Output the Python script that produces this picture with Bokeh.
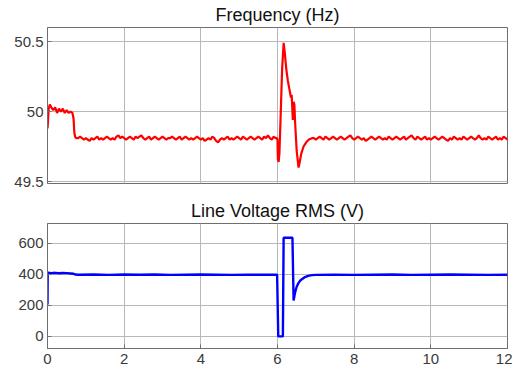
from bokeh.plotting import figure
from bokeh.layouts import column
from bokeh.models import FixedTicker, Range1d
from bokeh.embed import file_html
from bokeh.resources import INLINE

# ---------------- data ----------------
x_ticks = [0, 2, 4, 6, 8, 10, 12]
freq_ticks = [49.5, 50, 50.5]
volt_ticks = [0, 200, 400, 600]

# Frequency: start-up segment
freq_t_start = [0.0, 0.01, 0.03, 0.06, 0.1, 0.15, 0.2, 0.25, 0.3, 0.35, 0.4, 0.45,
                0.5, 0.55, 0.6, 0.65, 0.68, 0.7, 0.72, 0.75]
freq_v_start = [49.88, 49.92, 50.02, 50.05, 50.03, 50.01, 50.03, 49.99, 50.02, 50.00,
                50.02, 49.99, 50.01, 49.99, 50.00, 49.99, 49.95, 49.85, 49.82, 49.81]
# Frequency: steady segment before the fault (t = 0.80 ... 5.95, step 0.05)
freq_steady_a_t0 = 0.8
freq_steady_a = [49.81, 49.82, 49.81, 49.80, 49.81, 49.80, 49.79, 49.81, 49.80, 49.81,
                 49.82, 49.80, 49.81, 49.80, 49.81, 49.82, 49.81, 49.80, 49.81, 49.80,
                 49.82, 49.83, 49.81, 49.82, 49.81, 49.80, 49.81, 49.82, 49.81, 49.80,
                 49.82, 49.81, 49.82, 49.83, 49.81, 49.80, 49.81, 49.82, 49.80, 49.81,
                 49.82, 49.81, 49.80, 49.81, 49.82, 49.81, 49.80, 49.81, 49.81, 49.82,
                 49.81, 49.80, 49.81, 49.82, 49.80, 49.81, 49.82, 49.81, 49.80, 49.81,
                 49.80, 49.81, 49.82, 49.81, 49.80, 49.81, 49.79, 49.80, 49.81, 49.80,
                 49.82, 49.81, 49.79, 49.78, 49.80, 49.81, 49.80, 49.81, 49.82, 49.80,
                 49.81, 49.80, 49.81, 49.82, 49.81, 49.80, 49.82, 49.81, 49.80, 49.81,
                 49.82, 49.81, 49.80, 49.81, 49.82, 49.81, 49.80, 49.82, 49.81, 49.83,
                 49.81, 49.80, 49.82, 49.81]
# Frequency: transient around t = 6 s
freq_t_fault = [5.98, 6.00, 6.01, 6.03, 6.05, 6.08, 6.12, 6.16, 6.19, 6.23, 6.27, 6.31,
                6.35, 6.37, 6.39, 6.40, 6.42, 6.44, 6.46, 6.50, 6.55, 6.58, 6.62, 6.68,
                6.75, 6.82, 6.90]
freq_v_fault = [49.81, 49.80, 49.66, 49.64, 49.70, 49.95, 50.30, 50.49, 50.42, 50.30,
                50.22, 50.16, 50.10, 50.12, 50.00, 49.94, 50.07, 50.05, 49.92, 49.72,
                49.60, 49.64, 49.70, 49.75, 49.78, 49.80, 49.81]
# Frequency: steady segment after the fault (t = 6.95 ... 12.0, step 0.05)
freq_steady_b_t0 = 6.95
freq_steady_b = [49.81, 49.80, 49.81, 49.82, 49.81, 49.80, 49.82, 49.81, 49.80, 49.81,
                 49.82, 49.81, 49.80, 49.81, 49.82, 49.81, 49.80, 49.81, 49.82, 49.83,
                 49.81, 49.80, 49.81, 49.82, 49.81, 49.80, 49.81, 49.79, 49.80, 49.81,
                 49.82, 49.81, 49.80, 49.81, 49.82, 49.81, 49.80, 49.81, 49.80, 49.82,
                 49.81, 49.80, 49.81, 49.82, 49.81, 49.80, 49.81, 49.82, 49.80, 49.81,
                 49.82, 49.83, 49.81, 49.80, 49.82, 49.81, 49.80, 49.81, 49.82, 49.80,
                 49.81, 49.80, 49.81, 49.82, 49.81, 49.80, 49.81, 49.82, 49.81, 49.80,
                 49.79, 49.81, 49.80, 49.82, 49.81, 49.80, 49.81, 49.80, 49.82, 49.81,
                 49.80, 49.81, 49.82, 49.81, 49.80, 49.81, 49.83, 49.81, 49.80, 49.81,
                 49.80, 49.82, 49.81, 49.80, 49.81, 49.82, 49.80, 49.81, 49.80, 49.82,
                 49.81, 49.80]
steady_step = 0.05

# Line voltage RMS
volt_t = [0.0, 0.005, 0.02, 0.1, 0.2, 0.3, 0.4, 0.5, 0.6, 0.68, 0.72, 0.8, 1.2, 1.6,
          2.0, 2.4, 2.8, 3.2, 3.6, 4.0, 4.4, 4.8, 5.2, 5.6, 5.99, 6.02, 6.14, 6.16,
          6.39, 6.42, 6.46, 6.50, 6.55, 6.60, 6.70, 6.80, 6.90, 7.0, 7.5, 8.0, 8.5,
          9.0, 9.5, 10.0, 10.5, 11.0, 11.5, 12.0]
volt_v = [205, 405, 410, 408, 410, 407, 409, 408, 406, 404, 399, 398, 399, 397,
          399, 398, 399, 397, 398, 399, 398, 397, 398, 398, 398, 0, 0, 636,
          636, 232, 285, 320, 345, 362, 380, 390, 395, 397, 398, 397, 398,
          399, 397, 398, 399, 398, 397, 398]

# ------------- assemble frequency series -------------
freq_t = list(freq_t_start)
freq_v = list(freq_v_start)
for i, v in enumerate(freq_steady_a):
    freq_t.append(round(freq_steady_a_t0 + i * steady_step, 3))
    freq_v.append(v)
freq_t += freq_t_fault
freq_v += freq_v_fault
for i, v in enumerate(freq_steady_b):
    freq_t.append(round(freq_steady_b_t0 + i * steady_step, 3))
    freq_v.append(v)

FONT = "Liberation Sans"
GRID = "#b8b8b8"
FRAME = "#6e6e6e"
TICKTXT = "#3a3a3a"


def style(p, yticks, show_x):
    p.title.text_font = FONT
    p.title.text_font_size = "18px"
    p.title.text_font_style = "normal"
    p.title.text_color = "#111111"
    p.title.align = "center"
    p.title.standoff = 5
    p.outline_line_color = FRAME
    p.outline_line_width = 1
    p.background_fill_color = "white"
    p.border_fill_color = "white"
    p.xaxis.ticker = FixedTicker(ticks=x_ticks)
    p.xgrid.ticker = FixedTicker(ticks=x_ticks)
    p.yaxis.ticker = FixedTicker(ticks=yticks)
    p.ygrid.ticker = FixedTicker(ticks=yticks)
    for g in (p.xgrid, p.ygrid):
        g.grid_line_color = GRID
        g.grid_line_width = 1
    for ax in (p.xaxis, p.yaxis):
        ax.axis_line_color = FRAME
        ax.major_tick_line_color = FRAME
        ax.major_tick_in = 4
        ax.major_tick_out = 0
        ax.minor_tick_line_color = None
        ax.major_label_text_font = FONT
        ax.major_label_text_font_size = "15px"
        ax.major_label_text_color = TICKTXT
    p.yaxis.major_label_standoff = 4
    p.xaxis.major_label_standoff = 5
    if not show_x:
        p.xaxis.visible = False


p1 = figure(width=512, height=194, title="Frequency (Hz)",
            x_range=Range1d(0, 12), y_range=Range1d(49.486, 50.6),
            output_backend="svg", toolbar_location=None,
            min_border_left=47, min_border_right=5, min_border_top=26,
            min_border_bottom=11)
style(p1, freq_ticks, False)
p1.yaxis.major_label_overrides = {49.5: "49.5", 50: "50", 50.5: "50.5"}
p1.line(freq_t, freq_v, line_color="#ff0000", line_width=2.2)

p2 = figure(width=512, height=176, title="Line Voltage RMS (V)",
            x_range=Range1d(0, 12), y_range=Range1d(-78, 728),
            output_backend="svg", toolbar_location=None,
            min_border_left=47, min_border_right=5, min_border_top=29,
            min_border_bottom=22)
style(p2, volt_ticks, True)
p2.line(volt_t, volt_v, line_color="#0000ff", line_width=2.4)

layout = column(p1, p2, spacing=0)
open("out.html", "w").write(file_html(layout, INLINE))
